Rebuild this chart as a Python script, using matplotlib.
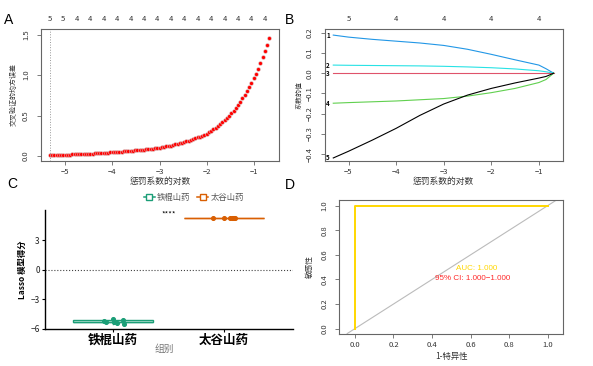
import matplotlib.pyplot as plt
from matplotlib.lines import Line2D

plt.rcParams['font.family'] = ['Noto Sans CJK SC', 'DejaVu Sans']
plt.rcParams['axes.unicode_minus'] = True

# ---- panel A: cross-validation curve ----
log_lambda = [
    -5.320, -5.273, -5.225, -5.178, -5.130, -5.083, -5.036, -4.988, -4.941, -4.893,
    -4.846, -4.799, -4.751, -4.704, -4.656, -4.609, -4.562, -4.514, -4.467, -4.419,
    -4.372, -4.325, -4.277, -4.230, -4.182, -4.135, -4.088, -4.040, -3.993, -3.945,
    -3.898, -3.851, -3.803, -3.756, -3.708, -3.661, -3.614, -3.566, -3.519, -3.471,
    -3.424, -3.377, -3.329, -3.282, -3.234, -3.187, -3.140, -3.092, -3.045, -2.997,
    -2.950, -2.903, -2.855, -2.808, -2.760, -2.713, -2.666, -2.618, -2.571, -2.523,
    -2.476, -2.429, -2.381, -2.334, -2.286, -2.239, -2.192, -2.144, -2.097, -2.049,
    -2.002, -1.955, -1.907, -1.860, -1.812, -1.765, -1.718, -1.670, -1.623, -1.575,
    -1.528, -1.481, -1.433, -1.386, -1.338, -1.291, -1.244, -1.196, -1.149, -1.101,
    -1.054, -1.007, -0.959, -0.912, -0.864, -0.817, -0.770, -0.722, -0.675,
]
cv_mse = [
    0.0120, 0.0127, 0.0135, 0.0143, 0.0152, 0.0161, 0.0170, 0.0181, 0.0190, 0.0199,
    0.0209, 0.0219, 0.0230, 0.0241, 0.0253, 0.0265, 0.0278, 0.0292, 0.0306, 0.0321,
    0.0337, 0.0353, 0.0371, 0.0389, 0.0408, 0.0428, 0.0449, 0.0471, 0.0494, 0.0512,
    0.0530, 0.0549, 0.0569, 0.0590, 0.0611, 0.0633, 0.0656, 0.0679, 0.0704, 0.0729,
    0.0755, 0.0782, 0.0811, 0.0840, 0.0870, 0.0901, 0.0934, 0.0967, 0.1002, 0.1038,
    0.1088, 0.1140, 0.1195, 0.1252, 0.1312, 0.1375, 0.1441, 0.1511, 0.1583, 0.1659,
    0.1739, 0.1822, 0.1910, 0.2001, 0.2097, 0.2198, 0.2304, 0.2414, 0.2530, 0.2652,
    0.2779, 0.2946, 0.3123, 0.3310, 0.3509, 0.3719, 0.3942, 0.4179, 0.4430, 0.4695,
    0.4977, 0.5283, 0.5608, 0.5953, 0.6319, 0.6708, 0.7120, 0.7558, 0.8023, 0.8516,
    0.9040, 0.9596, 1.0186, 1.0812, 1.1477, 1.2183, 1.2932, 1.3727, 1.4572,
]
lambda_min = -5.320
nz_pos = [-5.320, -5.036, -4.751, -4.467, -4.182, -3.898, -3.614, -3.329, -3.045,
          -2.760, -2.476, -2.192, -1.907, -1.623, -1.338, -1.054, -0.770]
nz_labels = ['5', '5', '4', '4', '4', '4', '4', '4', '4',
             '4', '4', '4', '4', '4', '4', '4', '4']

# ---- panel B: coefficient paths ----
path_x = [-5.32, -5.0, -4.5, -4.0, -3.5, -3.0, -2.5, -2.0, -1.5, -1.0, -0.85, -0.69]
coef_1 = [0.188, 0.178, 0.167, 0.158, 0.149, 0.137, 0.118, 0.093, 0.066, 0.040, 0.022, 0.0]
coef_2 = [0.040, 0.039, 0.038, 0.037, 0.036, 0.034, 0.031, 0.027, 0.021, 0.012, 0.007, 0.0]
coef_3 = [0.0, 0.0, 0.0, 0.0, 0.0, 0.0, 0.0, 0.0, 0.0, 0.0, 0.0, 0.0]
coef_4 = [-0.148, -0.145, -0.141, -0.137, -0.131, -0.125, -0.113, -0.096, -0.075, -0.046, -0.031, 0.0]
coef_5 = [-0.418, -0.385, -0.330, -0.272, -0.208, -0.152, -0.108, -0.075, -0.048, -0.024, -0.016, 0.0]
coef_names = ['1', '2', '3', '4', '5']
df_pos = [-5, -4, -3, -2, -1]
df_labels = ['5', '4', '4', '4', '4']

# ---- panel C: Lasso scores by group ----
groups = ['铁棍山药', '太谷山药']
score_tiegun = [-5.20, -5.30, -5.03, -5.27, -5.37, -5.07, -5.48]
score_taigu = [5.27, 5.24, 5.30, 5.31, 5.30, 5.32, 5.29]
jitter_tiegun = [-0.08, -0.06, 0.0, 0.015, 0.035, 0.09, 0.10]
jitter_taigu = [-0.10, 0.0, 0.05, 0.08, 0.10, 0.09, 0.07]
sig_label = '****'

# ---- panel D: ROC ----
fpr = [0.0, 0.0, 1.0]
tpr = [0.0, 1.0, 1.0]
auc_text = 'AUC: 1.000'
ci_text = '95% CI: 1.000\u22121.000'

FRAME = '#666666'
TXT = '#333333'


def r_style(ax):
    for s in ax.spines.values():
        s.set_color(FRAME)
        s.set_linewidth(0.8)
    ax.tick_params(length=3, width=0.6, color=FRAME, labelsize=5.5,
                   labelcolor=TXT)
    ax.tick_params(axis='x', pad=2)
    ax.tick_params(axis='y', pad=5)
    for lab in ax.get_yticklabels():
        lab.set_rotation(90)
        lab.set_va('center')


fig = plt.figure(figsize=(5.93, 3.66), dpi=100)

W, H = 593.0, 366.0


def ftext(x, y, s, **kw):
    fig.text(x / W, 1 - y / H, s, ha='center', va='center', **kw)


# A
axA = fig.add_axes([41 / W, 1 - 161 / H, 238 / W, 132 / H])
axA.plot(log_lambda, cv_mse, 'o', color='red', ms=2.8, mec='#d8d8d8', mew=0.35)
axA.axvline(lambda_min, color='#999999', ls=':', lw=0.7)
axA.set_xlim(-5.51, -0.47)
axA.set_ylim(-0.06, 1.57)
axA.set_xticks([-5, -4, -3, -2, -1])
axA.set_yticks([0.0, 0.5, 1.0, 1.5])
r_style(axA)
topA = axA.twiny()
topA.set_xlim(axA.get_xlim())
topA.set_xticks(nz_pos)
topA.set_xticklabels(nz_labels)
topA.tick_params(length=0, pad=4, labelsize=5.5, labelcolor=TXT)
for s in topA.spines.values():
    s.set_visible(False)
ftext(160, 181, '惩罚系数的对数', fontsize=6.3, color=TXT)
ftext(13.5, 95, '交叉验证的均方误差', fontsize=5, color=TXT, rotation=90)

# B
axB = fig.add_axes([324.7 / W, 1 - 161 / H, 238 / W, 132 / H])
path_colors = ['#2297E6', '#28E2E5', '#DF536B', '#61D04F', 'black']
for vals, col, name in zip([coef_1, coef_2, coef_3, coef_4, coef_5],
                           path_colors, coef_names):
    axB.plot(path_x, vals, color=col, lw=0.8)
    axB.text(-5.43, vals[0], name, fontsize=4.5, ha='center', va='center',
             color='black', fontweight='bold')
axB.set_xlim(-5.50, -0.50)
axB.set_ylim(-0.433, 0.218)
axB.set_xticks([-5, -4, -3, -2, -1])
axB.set_yticks([-0.4, -0.3, -0.2, -0.1, 0.0, 0.1, 0.2])
r_style(axB)
topB = axB.twiny()
topB.set_xlim(axB.get_xlim())
topB.set_xticks(df_pos)
topB.set_xticklabels(df_labels)
topB.tick_params(length=0, pad=4, labelsize=5.5, labelcolor=TXT)
for s in topB.spines.values():
    s.set_visible(False)
ftext(443, 181, '惩罚系数的对数', fontsize=6.3, color=TXT)
ftext(300, 95, '系数的值', fontsize=5, color=TXT, rotation=90)

# C
axC = fig.add_axes([45.3 / W, 1 - 329 / H, 247.4 / W, 119 / H])
green, orange = '#1B9E77', '#D95F02'
for pos, vals, col in [(1, score_tiegun, green), (2, score_taigu, orange)]:
    axC.boxplot([vals], positions=[pos], widths=0.72, showfliers=False,
                patch_artist=True,
                boxprops=dict(facecolor='white', edgecolor=col, lw=1.0),
                medianprops=dict(color=col, lw=1.0),
                whiskerprops=dict(color=col, lw=1.0),
                capprops=dict(color=col, lw=0))
axC.scatter([1 + j for j in jitter_tiegun], score_tiegun, s=7, color=green, zorder=3)
axC.scatter([2 + j for j in jitter_taigu], score_taigu, s=7, color=orange, zorder=3)
axC.axhline(0, ls=':', color='#444444', lw=0.8)
axC.text(1.5, 5.62, sig_label, fontsize=5.5, ha='center', va='center', color='black')
axC.set_xlim(0.395, 2.617)
axC.set_ylim(-6.0, 6.1)
axC.set_yticks([-6, -3, 0, 3])
axC.set_xticks([1, 2])
axC.set_xticklabels(groups, fontsize=9, fontweight='bold', color='black')
axC.spines['top'].set_visible(False)
axC.spines['right'].set_visible(False)
axC.spines['left'].set_linewidth(1.0)
axC.spines['bottom'].set_linewidth(1.0)
axC.tick_params(axis='y', length=2.5, width=0.8, labelsize=6, labelcolor='#222222', pad=1.5)
axC.tick_params(axis='x', length=2.5, width=0.8, pad=1)
handles = [Line2D([0], [0], color=green, marker='s', mfc='white', mec=green, ms=5, lw=1.1),
           Line2D([0], [0], color=orange, marker='s', mfc='white', mec=orange, ms=5, lw=1.1)]
fig.legend(handles, groups, loc='center', bbox_to_anchor=(194 / W, 1 - 197 / H),
           ncol=2, frameon=False, fontsize=6, labelcolor='#555555',
           handlelength=1.3, handletextpad=0.3, columnspacing=0.8)
ftext(22, 270, 'Lasso 模型得分', fontsize=6, color='black', rotation=90,
      fontweight='bold')
ftext(164, 349, '组别', fontsize=7, color='#777777')

# D
axD = fig.add_axes([339.3 / W, 1 - 334.3 / H, 223.4 / W, 134.3 / H])
axD.plot([-0.04, 1.04], [-0.04, 1.04], color='#bbbbbb', lw=0.8)
axD.plot(fpr, tpr, color='#FFD700', lw=1.4)
axD.text(0.63, 0.49, auc_text, fontsize=5.8, color='#FFD700', ha='center',
         va='center', family='Liberation Sans')
axD.text(0.61, 0.41, ci_text, fontsize=5.8, color='#FF2A2A', ha='center',
         va='center', family='Liberation Sans')
axD.set_xlim(-0.081, 1.078)
axD.set_ylim(-0.046, 1.046)
axD.set_xticks([0.0, 0.2, 0.4, 0.6, 0.8, 1.0])
axD.set_yticks([0.0, 0.2, 0.4, 0.6, 0.8, 1.0])
axD.set_xticklabels(['0.0', '0.2', '0.4', '0.6', '0.8', '1.0'])
axD.set_yticklabels(['0.0', '0.2', '0.4', '0.6', '0.8', '1.0'])
r_style(axD)
ftext(452, 356, '1-特异性', fontsize=6, color=TXT)
ftext(310, 267, '敏感性', fontsize=5.5, color=TXT, rotation=90)

# panel letters
for letter, x, y in [('A', 9, 20), ('B', 290, 20), ('C', 12, 184), ('D', 290, 185)]:
    ftext(x, y, letter, fontsize=10, color='black', family='Liberation Sans')

fig.savefig('out.png', dpi=100)
